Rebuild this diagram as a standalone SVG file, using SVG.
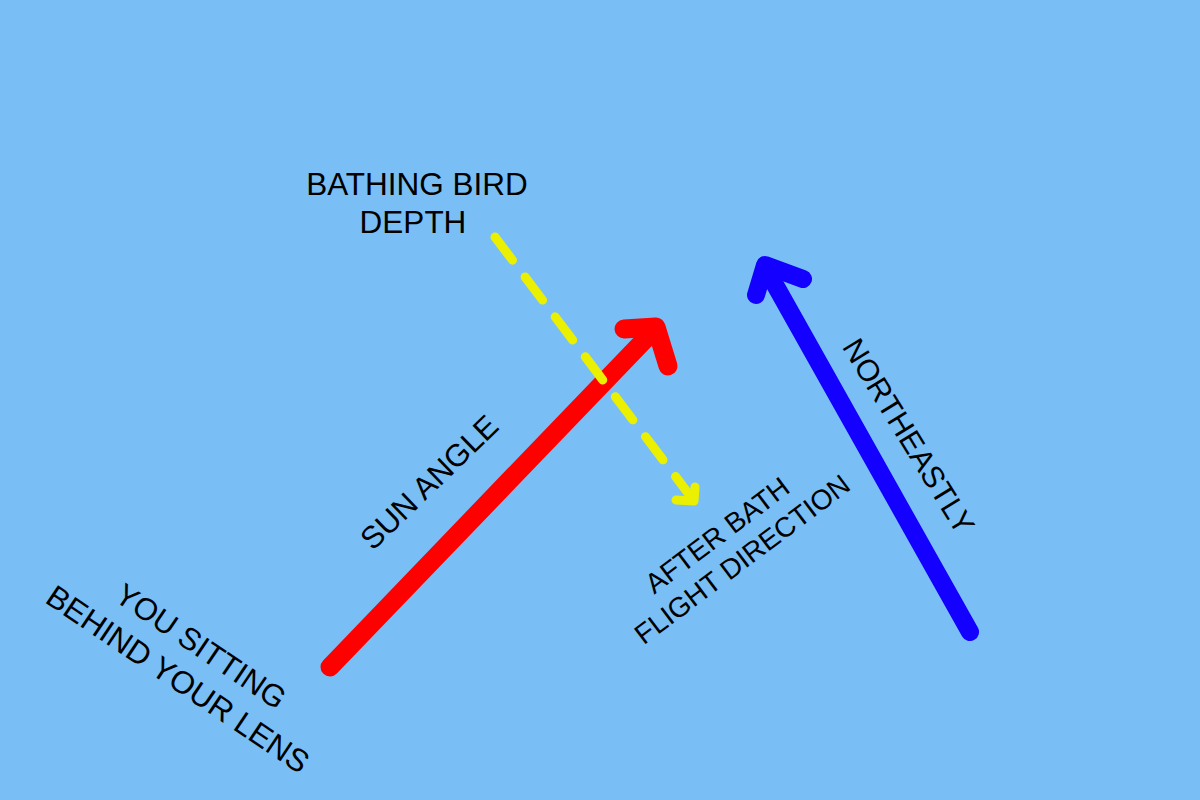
<svg xmlns="http://www.w3.org/2000/svg" width="1200" height="800" viewBox="0 0 1200 800">
<style>
.t{font-family:"Liberation Sans",Arial,sans-serif;fill:#000;text-anchor:middle}
.red{stroke:#FF0000;stroke-width:19;fill:none;stroke-linecap:round;stroke-linejoin:round}
.blue{stroke:#1400FF;stroke-width:18;fill:none;stroke-linecap:round;stroke-linejoin:round}
.yel{stroke:#EBF000;stroke-width:9;fill:none;stroke-linecap:round;stroke-linejoin:round}
</style>
<rect width="1200" height="800" fill="#79BFF6"/>
<g id="connectors">
<g id="sun-arrow">
<line class="red" x1="330" y1="667" x2="656" y2="328"/>
<polyline class="red" points="624,329 656,327 668,366"/>
</g>
<g id="northeast-arrow">
<line class="blue" x1="970" y1="632" x2="765" y2="267"/>
<polyline class="blue" points="756,295 765,265 803,279"/>
</g>
<g id="depth-arrow">
<line class="yel" x1="495" y1="237" x2="694" y2="501" stroke-dasharray="29 21"/>
<polyline class="yel" points="676,500 694,501 695,487"/>
</g>
</g>
<g id="label-bathing">
<text class="t" x="417" y="195" font-size="31.5">BATHING BIRD</text>
<text class="t" x="413" y="233" font-size="31.5">DEPTH</text>
</g>
<g id="label-sun" transform="translate(429,482) rotate(-44)">
<text class="t" x="0" y="11" font-size="31">SUN ANGLE</text>
</g>
<g id="label-you">
<text class="t" transform="translate(201,646) rotate(34)" x="0" y="11" font-size="31">YOU SITTING</text>
<text class="t" transform="translate(178,679) rotate(34)" x="0" y="11" font-size="31.5">BEHIND YOUR LENS</text>
</g>
<g id="label-flight">
<text class="t" transform="translate(717,535) rotate(-37)" x="0" y="10" font-size="28">AFTER BATH</text>
<text class="t" transform="translate(742,559) rotate(-37)" x="0" y="10" font-size="28">FLIGHT DIRECTION</text>
</g>
<g id="label-northeast" transform="translate(909,436) rotate(58.5)">
<text class="t" x="0" y="11" font-size="30.5">NORTHEASTLY</text>
</g>
</svg>
